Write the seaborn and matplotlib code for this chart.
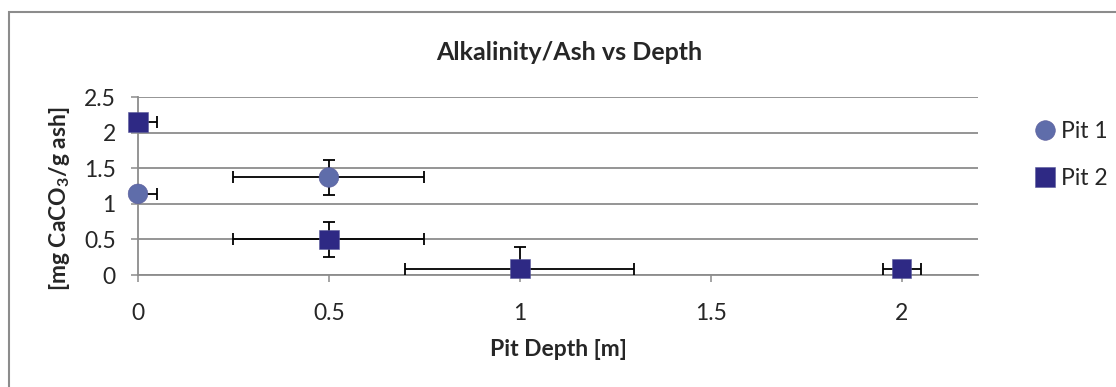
import pandas as pd
import matplotlib.pyplot as plt
import seaborn as sns
from matplotlib.patches import Rectangle

# values
pit = ["Pit 1", "Pit 1", "Pit 2", "Pit 2", "Pit 2", "Pit 2"]
depth = [0, 0.5, 0, 0.5, 1, 2]
alk = [1.14, 1.37, 2.15, 0.5, 0.09, 0.09]
depth_err = [0.05, 0.25, 0.05, 0.25, 0.3, 0.05]
alk_err = [0, 0.25, 0, 0.25, 0.3, 0]

data = pd.DataFrame({"pit": pit, "depth": depth, "alk": alk,
                     "xerr": depth_err, "yerr": alk_err})

sns.set_style("white")
plt.rcParams['font.family'] = ['Lato', 'DejaVu Sans']
plt.rcParams['mathtext.fontset'] = 'custom'
plt.rcParams['mathtext.rm'] = 'Lato'
plt.rcParams['mathtext.bf'] = 'Lato:bold'

colors = {"Pit 1": "#5F6DAA", "Pit 2": "#2E2984"}
markers = {"Pit 1": "o", "Pit 2": "s"}

fig = plt.figure(figsize=(11.16, 3.87), dpi=100)
ax = fig.add_axes([138/1116, 1-275/387, 840/1116, 178/387])

# error bars first, markers drawn on top
ax.errorbar(data["depth"], data["alk"], xerr=data["xerr"], yerr=data["yerr"],
            fmt="none", ecolor="black", elinewidth=1.3, capsize=4.5, capthick=1.3, zorder=3)

sns.scatterplot(data=data, x="depth", y="alk", hue="pit", style="pit",
                palette=colors, markers=markers, s=200, linewidth=0.4,
                edgecolor="#5a5a9a", ax=ax, zorder=4, clip_on=False)

ax.set_xlim(0, 2.2)
ax.set_ylim(0, 2.5)
ax.set_xticks([0, 0.5, 1, 1.5, 2])
ax.set_xticklabels(["0", "0.5", "1", "1.5", "2"])
ax.set_yticks([0, 0.5, 1, 1.5, 2, 2.5])
ax.set_yticklabels(["0", "0.5", "1", "1.5", "2", "2.5"])
ax.grid(axis="y", color="#8c8c8c", linewidth=1.3)
ax.set_axisbelow(True)
for side in ["top", "right"]:
    ax.spines[side].set_visible(False)
for side in ["left", "bottom"]:
    ax.spines[side].set_color("#8c8c8c")
    ax.spines[side].set_linewidth(1.3)
ax.tick_params(axis="both", which="both", direction="out", length=5, width=1.1,
               color="#8c8c8c", labelsize=16.5, bottom=True, left=True)
ax.tick_params(axis="x", pad=15)
ax.tick_params(axis="y", pad=11)

ax.set_xlabel("Pit Depth [m]", fontsize=16.5, fontweight="bold")
ax.xaxis.set_label_coords(0.5, -(349 - 275) / 178, transform=ax.transAxes)
ax.xaxis.label.set_va("center")
ax.set_ylabel(r"[mg CaCO$_\mathbf{3}$/g ash]", fontsize=16.5, fontweight="bold")
ax.yaxis.set_label_coords(-(138 - 59) / 840, (275 - 199) / 178, transform=ax.transAxes)
ax.yaxis.label.set_va("center")
fig.text(569/1116, 1-53/387, "Alkalinity/Ash vs Depth", fontsize=18,
         fontweight="bold", ha="center", va="center")

handles, labels = ax.get_legend_handles_labels()
ax.legend(handles, labels, frameon=False, fontsize=16.5, loc="center left",
          bbox_to_anchor=(1036/1116, 1-155/387), bbox_transform=fig.transFigure,
          handlelength=0.8, handletextpad=0.3, labelspacing=1.1, markerscale=1.0,
          borderaxespad=0, borderpad=0)

fig.add_artist(Rectangle((9/1116, -0.1), 1.2, 1.1 - 12/387, transform=fig.transFigure,
                         fill=False, edgecolor="#8c8c8c", linewidth=1.5))

fig.savefig("out.png", dpi=100)
